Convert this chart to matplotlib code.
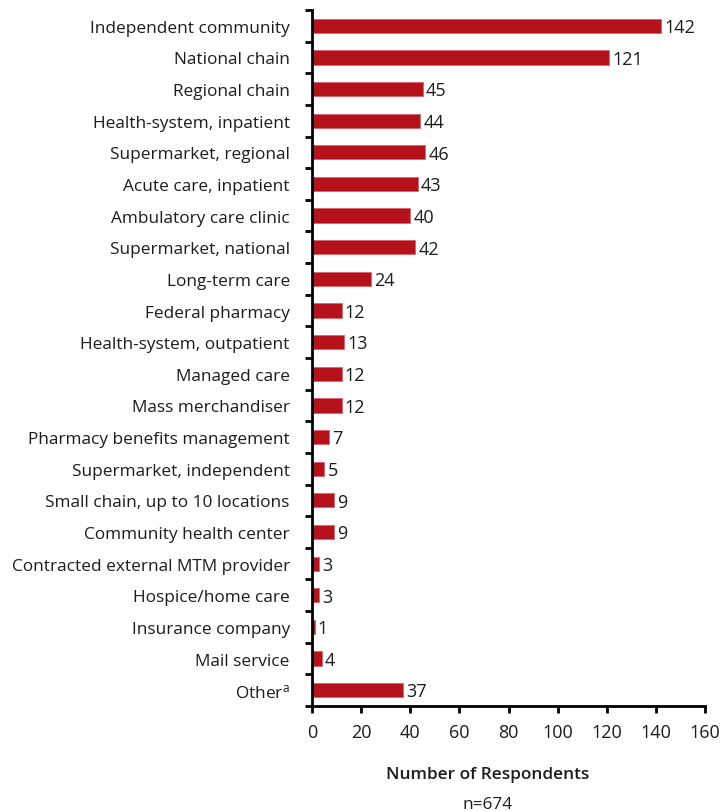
import matplotlib
matplotlib.use("Agg")
import matplotlib.pyplot as plt
import numpy as np

plt.rcParams['font.family'] = ['Open Sans', 'DejaVu Sans']
plt.rcParams['mathtext.fontset'] = 'custom'
plt.rcParams['mathtext.rm'] = 'Open Sans'
plt.rcParams['mathtext.it'] = 'Open Sans'
plt.rcParams['mathtext.default'] = 'regular'

categories = [
    "Independent community", "National chain", "Regional chain",
    "Health-system, inpatient", "Supermarket, regional", "Acute care, inpatient",
    "Ambulatory care clinic", "Supermarket, national", "Long-term care",
    "Federal pharmacy", "Health-system, outpatient", "Managed care",
    "Mass merchandiser", "Pharmacy benefits management", "Supermarket, independent",
    "Small chain, up to 10 locations", "Community health center",
    "Contracted external MTM provider", "Hospice/home care", "Insurance company",
    "Mail service", "Other$^{a}$",
]
counts = [142, 121, 45, 44, 46, 43, 40, 42, 24, 12, 13, 12, 12, 7, 5, 9, 9, 3, 3, 1, 4, 37]
x_ticks = [0, 20, 40, 60, 80, 100, 120, 140, 160]
x_label = "Number of Respondents"
sample_note = "n=674"

TXT = "#1c1c1c"
FS = 12.4

fig = plt.figure(figsize=(7.24, 8.12), dpi=100)
ax = fig.add_axes([0.431, 0.1293, 0.543, 0.8572])

y = np.arange(len(categories))
ax.barh(y, counts, height=0.45, color="#B5121B", edgecolor="#D9646A", linewidth=0.6)

for yi, v in zip(y, counts):
    ax.text(v + 1.3, yi + 0.04, str(v), va="center", ha="left", fontsize=13, color=TXT)

ax.set_ylim(len(categories) - 0.5, -0.5)
ax.set_xlim(0, 160)

ax.set_yticks(y)
ax.set_yticklabels(categories, fontsize=FS, color=TXT)
ax.tick_params(axis="y", which="major", length=0, pad=16)
ax.set_yticks(np.arange(len(categories) + 1) - 0.5, minor=True)
ax.tick_params(axis="y", which="minor", length=5, width=2, direction="out")

ax.set_xticks(x_ticks)
ax.set_xticklabels([str(t) for t in x_ticks], fontsize=13, color=TXT)
ax.tick_params(axis="x", which="major", length=5, width=2, direction="out", pad=7)

for side in ("top", "right"):
    ax.spines[side].set_visible(False)
for side in ("left", "bottom"):
    ax.spines[side].set_linewidth(2)
    ax.spines[side].set_color("black")

fig.text(0.674, 0.0456, x_label, ha="center", va="center", fontsize=FS,
         fontweight="semibold", color=TXT)
fig.text(0.674, 0.009, sample_note, ha="center", va="center", fontsize=FS,
         color=TXT)

fig.savefig("out.png", dpi=100)
